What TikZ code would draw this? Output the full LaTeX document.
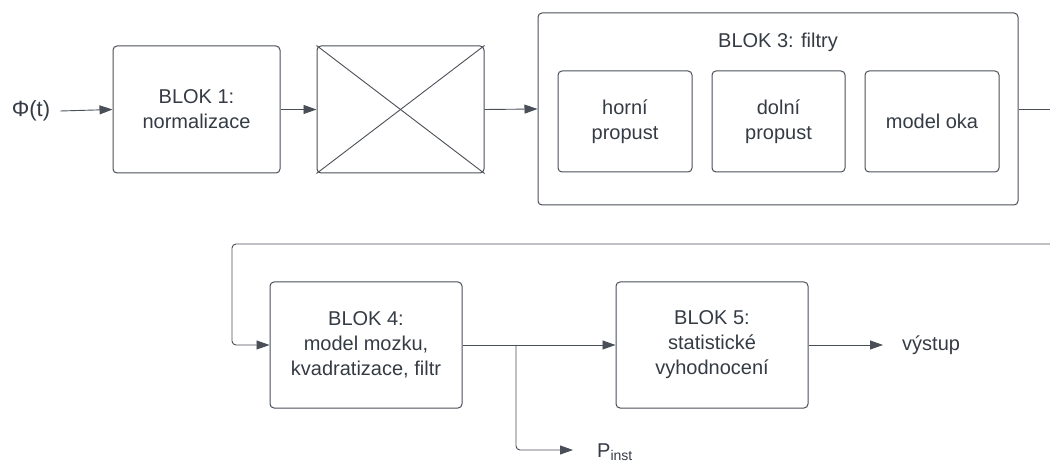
\documentclass[tikz,border=0pt]{standalone}
\usepackage{fontspec}
\setmainfont{Liberation Sans}
\usetikzlibrary{arrows.meta}
\definecolor{txt}{HTML}{353B44}
\definecolor{ln}{HTML}{4A4F57}
\tikzset{
  blk/.style={draw=ln, line width=1pt, rounded corners=4pt, align=center, text=txt,
    font=\fontsize{20}{25}\selectfont, inner sep=0pt},
  lbl/.style={text=txt, font=\fontsize{20}{25}\selectfont},
  conn/.style={draw=ln, line width=0.9pt},
  arr/.style={conn, -{Triangle[length=13pt,width=9pt]}}
}
\begin{document}
\begin{tikzpicture}[x=1pt,y=-1pt]
\useasboundingbox (0,0) rectangle (1050,462);
\clip (0,0) rectangle (1050,462);
% top row
\node[lbl, font=\fontsize{22}{26}\selectfont, inner xsep=10pt, inner ysep=0pt] (phi) at (31,111) {Φ(t)};
\node[blk, minimum width=167pt, minimum height=127pt] (b1) at (196.5,109.5) {BLOK 1:\\normalizace};
\node[blk, minimum width=167pt, minimum height=127pt] (bx) at (400.5,109.5) {};
\draw[conn] (bx.north west) -- (bx.south east);
\draw[conn] (bx.south west) -- (bx.north east);
\node[blk, minimum width=480pt, minimum height=192pt] (b3) at (778,109) {};
\node[lbl] (b3t) at (778,42) {BLOK 3: filtry};
\node[blk, minimum width=134pt, minimum height=101pt] (fa) at (625,121.5) {horní\\propust};
\node[blk, minimum width=133pt, minimum height=101pt] (fb) at (778.5,121.5) {dolní\\propust};
\node[blk, minimum width=134pt, minimum height=101pt] (fc) at (932,121.5) {model oka};
\draw[arr] (phi.east) -- (b1.west);
\draw[arr] (b1.east) -- (bx.west);
\draw[arr] (bx.east) -- (b3.west);
\coordinate (rt) at (1052,109);
\draw[conn] (b3.east) -- (rt);
% bottom row
\node[blk, minimum width=192pt, minimum height=126pt] (b4) at (366,345) {BLOK 4:\\model mozku,\\kvadratizace, filtr};
\node[blk, minimum width=192pt, minimum height=126pt] (b5) at (712,345) {BLOK 5:\\statistické\\vyhodnocení};
\node[lbl, anchor=west, inner xsep=19pt, inner ysep=0pt] (out) at (883,345) {výstup};
\node[lbl, anchor=west, inner xsep=24pt, inner ysep=0pt, text height=14pt, text depth=0pt] (pin) at (573,450) {P\textsubscript{inst}};
\coordinate (fbk) at (1052,244);
\draw[arr, rounded corners=4pt] (fbk) -- (232,244) -- (232,345) -- (b4.west);
\draw[arr] (b4.east) -- (b5.west);
\draw[arr] (b5.east) -- (out.west);
\coordinate (br) at (516,345);
\draw[arr, rounded corners=4pt] (br) |- (pin.west);
\end{tikzpicture}
\end{document}
